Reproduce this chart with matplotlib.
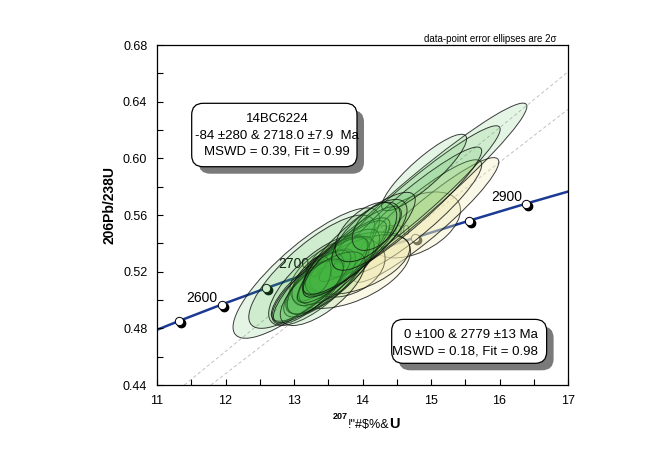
import numpy as np
import matplotlib
import matplotlib.pyplot as plt
from matplotlib.patches import Ellipse, FancyBboxPatch
from matplotlib.transforms import offset_copy
from matplotlib.ticker import MultipleLocator, FormatStrFormatter
from matplotlib.colors import to_rgba

plt.rcParams['font.family'] = ['Liberation Sans', 'DejaVu Sans']

# concordia points (Ma, 207Pb/235U, 206Pb/238U)
conc_age = [2500, 2550, 2600, 2650, 2700, 2750, 2800, 2850, 2900, 2950]
conc_x = [10.730, 11.322, 11.944, 12.597, 13.283, 14.004, 14.763, 15.558, 16.393, 17.271]
conc_y = [0.4737, 0.4852, 0.4968, 0.5084, 0.5202, 0.5320, 0.5440, 0.5560, 0.5681, 0.5803]
label_ages = [2600, 2700, 2800, 2900]

# discordia lines: lower and upper intercept points
disc_a = [(-0.079, -0.013), (13.54, 0.5245)]   # -84 & 2718 Ma
disc_b = [(0.0, 0.0), (14.44, 0.539)]          # 0 & 2779 Ma

# green ellipses: x, y, 2s x, 2s y, rho
g_x = [13.18, 13.26, 13.35, 14.72, 14.69, 14.64, 14.90,
       13.40, 13.50, 13.30, 13.55, 13.35, 13.62, 13.25, 13.35, 13.60,
       13.20, 13.70, 13.42, 13.55, 13.85, 13.95, 14.10, 14.20, 14.05]
g_y = [0.519, 0.520, 0.514, 0.569, 0.568, 0.562, 0.590,
       0.513, 0.517, 0.509, 0.519, 0.515, 0.521, 0.510, 0.5176, 0.524,
       0.506, 0.527, 0.508, 0.521, 0.534, 0.540, 0.546, 0.552, 0.548]
g_sx = [1.07, 0.92, 0.72, 1.68, 1.32, 1.10, 0.62,
        0.50, 0.60, 0.42, 0.70, 0.38, 0.55, 0.58, 0.19, 0.48,
        0.52, 0.65, 0.62, 0.85, 0.72, 0.82, 0.55, 0.35, 0.45]
g_sy = [0.046, 0.040, 0.032, 0.070, 0.055, 0.046, 0.027,
        0.023, 0.027, 0.019, 0.031, 0.019, 0.024, 0.025, 0.0135, 0.021,
        0.023, 0.029, 0.026, 0.037, 0.032, 0.036, 0.025, 0.017, 0.021]
g_rho = [0.83, 0.80, 0.74, 0.966, 0.955, 0.94, 0.88,
         0.70, 0.75, 0.65, 0.80, 0.55, 0.72, 0.80, 0.30, 0.70,
         0.75, 0.85, 0.70, 0.88, 0.85, 0.85, 0.70, 0.50, 0.55]

# pale yellow ellipses
y_x = [14.77, 14.93, 14.78, 13.82, 13.75, 13.96]
y_y = [0.553, 0.5565, 0.559, 0.521, 0.523, 0.525]
y_sx = [0.66, 1.06, 0.96, 0.88, 0.58, 0.73]
y_sy = [0.0233, 0.044, 0.040, 0.027, 0.021, 0.021]
y_rho = [0.45, 0.93, 0.91, 0.50, 0.30, 0.55]


def draw_ellipse(ax, x, y, sx, sy, rho, face, alpha):
    cov = np.array([[sx * sx, rho * sx * sy], [rho * sx * sy, sy * sy]])
    vals, vecs = np.linalg.eigh(cov)
    ang = np.degrees(np.arctan2(vecs[1, 1], vecs[0, 1]))
    e = Ellipse((x, y), 2 * np.sqrt(vals[1]), 2 * np.sqrt(vals[0]), angle=ang,
                facecolor=to_rgba(face, alpha), edgecolor=(0.05, 0.05, 0.05, 0.8),
                lw=0.7, zorder=3)
    ax.add_patch(e)


fig = plt.figure(figsize=(6.7, 4.62), dpi=100)
ax = fig.add_axes([157 / 670, 1 - 385 / 462, 411 / 670, 340 / 462])
ax.set_xlim(11, 17)
ax.set_ylim(0.44, 0.68)

# concordia
ax.plot(conc_x, conc_y, color='#1c3a94', lw=1.8, zorder=1)
mx = [x for a, x in zip(conc_age, conc_x) if 2550 <= a <= 2900]
my = [y for a, y in zip(conc_age, conc_y) if 2550 <= a <= 2900]
shadow = offset_copy(ax.transData, fig=fig, x=2, y=-2, units='dots')
ax.plot(mx, my, 'o', ms=6, color='black', transform=shadow, zorder=1.5)
ax.plot(mx, my, 'o', ms=6, mfc='white', mec='black', mew=0.7, zorder=1.6)
for a, x, y in zip(conc_age, conc_x, conc_y):
    if a in label_ages:
        ax.annotate(str(a), (x, y), xytext=(-4, 7), textcoords='offset pixels',
                    ha='right', va='center', fontsize=10, zorder=2)

for p in (disc_a, disc_b):
    ax.axline(p[0], p[1], color='#b8b8b8', lw=0.6, ls=(0, (4, 3)), zorder=2)

for i in range(len(y_x)):
    draw_ellipse(ax, y_x[i], y_y[i], y_sx[i], y_sy[i], y_rho[i], '#f0eab0', 0.3)
for i in range(len(g_x)):
    draw_ellipse(ax, g_x[i], g_y[i], g_sx[i], g_sy[i], g_rho[i], '#3cb43c', 0.13)

# text boxes with shadow
asp = 411 / 340
for (x0, y0, x1, y1) in [(0.0844, 0.642, 0.4866, 0.8285), (0.571, 0.0638, 0.948, 0.193)]:
    sh = FancyBboxPatch((x0 + 0.017, y0 - 0.0206), x1 - x0, y1 - y0,
                        boxstyle='round,pad=0,rounding_size=0.028', mutation_aspect=asp,
                        transform=ax.transAxes, facecolor='#7a7a7a', edgecolor='none', zorder=5)
    bx = FancyBboxPatch((x0, y0), x1 - x0, y1 - y0,
                        boxstyle='round,pad=0,rounding_size=0.028', mutation_aspect=asp,
                        transform=ax.transAxes, facecolor='white', edgecolor='black',
                        lw=0.9, zorder=6)
    ax.add_patch(sh)
    ax.add_patch(bx)

ax.text(0.292, 0.7338, '14BC6224\n-84 \u00b1280 & 2718.0 \u00b17.9  Ma\nMSWD = 0.39, Fit = 0.99',
        transform=ax.transAxes, ha='center', va='center', multialignment='center',
        fontsize=9.5, linespacing=1.45, zorder=7)
ax.text(0.927, 0.122, '0 \u00b1100 & 2779 \u00b113 Ma\nMSWD = 0.18, Fit = 0.98',
        transform=ax.transAxes, ha='right', va='center', multialignment='right',
        fontsize=9.5, linespacing=1.45, zorder=7)

# axes styling
ax.xaxis.set_major_locator(MultipleLocator(1))
ax.xaxis.set_minor_locator(MultipleLocator(0.5))
ax.yaxis.set_major_locator(MultipleLocator(0.04))
ax.yaxis.set_minor_locator(MultipleLocator(0.02))
ax.yaxis.set_major_formatter(FormatStrFormatter('%.2f'))
ax.tick_params(which='both', direction='in', top=False, right=False, labelsize=9,
               length=4, width=0.8, pad=7)
for s in ax.spines.values():
    s.set_linewidth(0.9)

fig.text(110 / 670, 1 - 205 / 462, '206Pb/238U', rotation=90, ha='center', va='center',
         fontsize=10, weight='bold')
fig.text(333 / 670, 1 - 419 / 462, '207', fontsize=6.5, weight='bold', va='baseline')
fig.text(348 / 670, 1 - 428.3 / 462, '!"#$%&', fontsize=9, va='baseline', parse_math=False)
fig.text(389 / 670, 1 - 428.3 / 462, 'U', fontsize=10.5, weight='bold', va='baseline')
fig.text(557 / 670, 1 - 41.5 / 462, 'data-point error ellipses are 2\u03c3', fontsize=7,
         ha='right', va='baseline')

fig.savefig('out.png', dpi=100)
